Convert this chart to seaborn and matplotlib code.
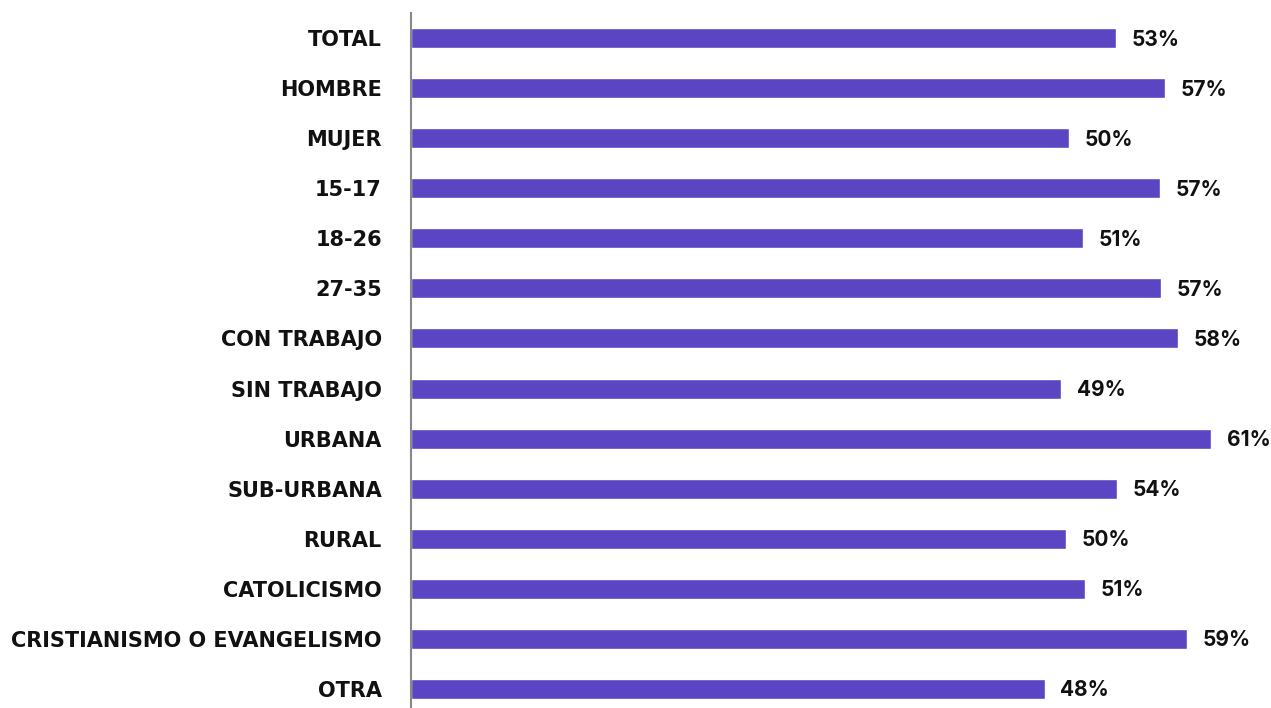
import matplotlib
matplotlib.use("Agg")
import matplotlib.pyplot as plt
import seaborn as sns
import pandas as pd

categories = ["TOTAL", "HOMBRE", "MUJER", "15-17", "18-26", "27-35",
              "CON TRABAJO", "SIN TRABAJO", "URBANA", "SUB-URBANA", "RURAL",
              "CATOLICISMO", "CRISTIANISMO O EVANGELISMO", "OTRA"]
values = [53.4, 57.1, 49.85, 56.75, 50.9, 56.8, 58.1, 49.25, 60.6, 53.5,
          49.6, 51.05, 58.8, 48.0]

df = pd.DataFrame({"cat": categories, "val": values})

sns.set_style("white")
fig = plt.figure(figsize=(12.71, 7.08), dpi=100)
ax = fig.add_axes([411 / 1271, 0, 860 / 1271, 695 / 708])

sns.barplot(data=df, x="val", y="cat", orient="h", color="#5B45C3",
            saturation=1, width=0.4, ax=ax)

ax.set_xlim(0, 65.15)
ax.set_ylim(13.38, -0.5)

for i, v in enumerate(values):
    ax.text(v + 1.2, i + 0.03, f"{round(v)}%", va="center", ha="left",
            fontsize=15, fontweight="bold", family=["Inter", "DejaVu Sans"],
            color="#111111")

for s in ["top", "right", "bottom"]:
    ax.spines[s].set_visible(False)
ax.spines["left"].set_color("#888888")
ax.spines["left"].set_linewidth(1.5)

ax.set_xticks([])
ax.set_xlabel("")
ax.set_ylabel("")
ax.tick_params(axis="y", length=0, pad=21)
for lab in ax.get_yticklabels():
    lab.set_fontsize(15)
    lab.set_fontweight("bold")
    lab.set_family("DejaVu Sans")
    lab.set_color("#111111")

fig.savefig("out.png", dpi=100)
